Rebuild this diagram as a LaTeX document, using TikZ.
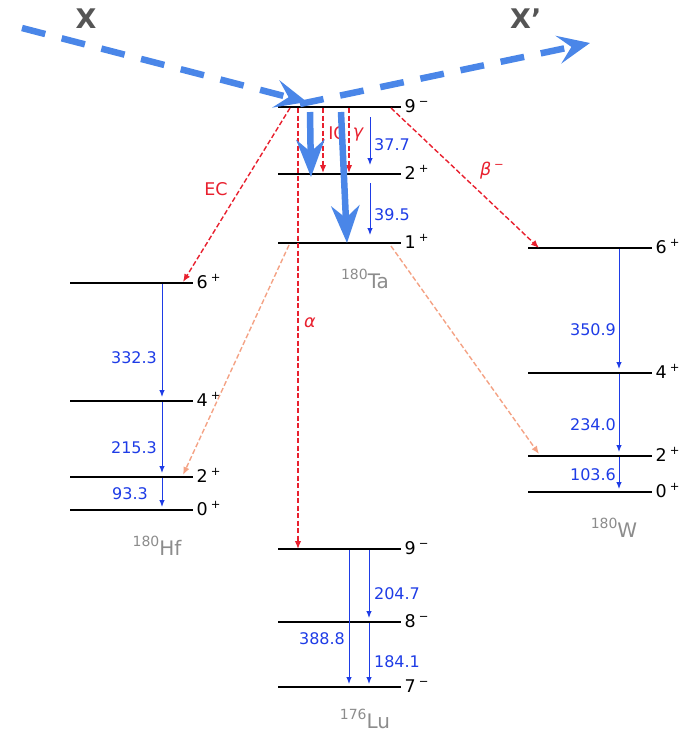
\documentclass[tikz,border=0pt]{standalone}
\usepackage{fontspec}
\setmainfont{DejaVu Sans}
\usetikzlibrary{arrows.meta}
\definecolor{tblue}{HTML}{1E3CE6}
\definecolor{dred}{HTML}{E8202E}
\definecolor{salmon}{HTML}{F4A284}
\definecolor{beamblue}{HTML}{4A86E8}
\definecolor{isogray}{HTML}{8C8C8C}
\definecolor{xgray}{HTML}{555555}
\newcommand\mylevel[5]{%
  \coordinate (#1L) at (#2,#4);
  \coordinate (#1R) at (#3,#4);
  \draw[levelline] (#1L) -- (#1R) node[levlab] {#5};
}
\newcommand\jp[2]{#1\,\raisebox{0.42em}{\fontsize{11.5}{11.5}\selectfont #2}}
\newcommand\iso[2]{{\fontsize{20}{20}\selectfont\raisebox{0.42em}{\fontsize{14}{14}\selectfont #1}#2}}
\begin{document}
\begin{tikzpicture}[x=1pt,y=-1pt,
  levelline/.style={line width=2.4pt,black},
  levlab/.style={anchor=base west,inner sep=0pt,xshift=2.5pt,yshift=-5.5pt,font=\fontsize{17.5}{17.5}\selectfont},
  trans/.style={draw=tblue,line width=1pt,-{Latex[length=7pt,width=5.5pt]}},
  tlab/.style={text=tblue,font=\fontsize{16}{16}\selectfont,inner sep=0pt,text depth=0pt},
  decay/.style={draw=dred,line width=1.4pt,dash pattern=on 5pt off 2.5pt,-{Latex[length=8pt,width=6.5pt]}},
  salm/.style={draw=salmon,line width=1.4pt,dash pattern=on 5pt off 2.5pt,-{Latex[length=8pt,width=6.5pt]}},
  dlab/.style={text=dred,font=\fontsize{17.5}{17.5}\selectfont,inner sep=0pt},
  beam/.style={draw=beamblue,line width=6.5pt,dash pattern=on 24pt off 17pt,-{Stealth[length=32pt,width=28pt,inset=13pt]}},
  fat/.style={draw=beamblue,line width=6.5pt,-{Stealth[length=37pt,width=28pt,inset=12pt]}},
  isolab/.style={text=isogray,inner sep=0pt,anchor=base},
  xlab/.style={text=xgray,font=\fontsize{27}{27}\selectfont\bfseries,inner sep=0pt,anchor=base}
]
\useasboundingbox (0,0) rectangle (685,732);

% levels
\mylevel{taA}{278}{401}{107}{\jp{9}{−}}
\mylevel{taB}{278}{401}{174}{\jp{2}{+}}
\mylevel{taC}{278}{401}{243}{\jp{1}{+}}
\mylevel{hfA}{70}{193}{283}{\jp{6}{+}}
\mylevel{hfB}{70}{193}{401}{\jp{4}{+}}
\mylevel{hfC}{70}{193}{477}{\jp{2}{+}}
\mylevel{hfD}{70}{193}{510}{\jp{0}{+}}
\mylevel{wA}{528}{652}{248}{\jp{6}{+}}
\mylevel{wB}{528}{652}{373}{\jp{4}{+}}
\mylevel{wC}{528}{652}{456}{\jp{2}{+}}
\mylevel{wD}{528}{652}{492}{\jp{0}{+}}
\mylevel{luA}{278}{401}{549}{\jp{9}{−}}
\mylevel{luB}{278}{401}{622}{\jp{8}{−}}
\mylevel{luC}{278}{401}{687}{\jp{7}{−}}

% isotope names
\node[isolab] (ta) at (365,288) {\iso{180}{Ta}};
\node[isolab] (hf) at (157,555) {\iso{180}{Hf}};
\node[isolab] (w)  at (614,537) {\iso{180}{W}};
\node[isolab] (lu) at (365,728) {\iso{176}{Lu}};

% gamma transitions
\coordinate (t1a) at (370,117); \coordinate (t1b) at (370,165);
\coordinate (t2a) at (370,183); \coordinate (t2b) at (370,235);
\draw[trans] (t1a) -- (t1b);
\draw[trans] (t2a) -- (t2b);
\node[tlab] (l377) at (392,145) {37.7};
\node[tlab] (l395) at (392,215) {39.5};

\coordinate (h1a) at (162,284); \coordinate (h1b) at (162,397);
\coordinate (h2a) at (162,402); \coordinate (h2b) at (162,473);
\coordinate (h3a) at (162,478); \coordinate (h3b) at (162,507);
\draw[trans] (h1a) -- (h1b);
\draw[trans] (h2a) -- (h2b);
\draw[trans] (h3a) -- (h3b);
\node[tlab] (l332) at (134,358) {332.3};
\node[tlab] (l215) at (134,448) {215.3};
\node[tlab] (l933) at (130,494) {93.3};

\coordinate (w1a) at (619,249); \coordinate (w1b) at (619,369);
\coordinate (w2a) at (619,374); \coordinate (w2b) at (619,452);
\coordinate (w3a) at (619,457); \coordinate (w3b) at (619,489);
\draw[trans] (w1a) -- (w1b);
\draw[trans] (w2a) -- (w2b);
\draw[trans] (w3a) -- (w3b);
\node[tlab] (l350) at (593,330) {350.9};
\node[tlab] (l234) at (593,425) {234.0};
\node[tlab] (l103) at (593,475) {103.6};

\coordinate (u1a) at (349,550); \coordinate (u1b) at (349,684);
\coordinate (u2a) at (369,550); \coordinate (u2b) at (369,618);
\coordinate (u3a) at (369,623); \coordinate (u3b) at (369,684);
\draw[trans] (u1a) -- (u1b);
\draw[trans] (u2a) -- (u2b);
\draw[trans] (u3a) -- (u3b);
\node[tlab] (l388) at (322,639) {388.8};
\node[tlab] (l204) at (397,594) {204.7};
\node[tlab] (l184) at (397,662) {184.1};

% decays
\coordinate (ecA) at (290,108); \coordinate (ecB) at (183,282);
\coordinate (bmA) at (391,108); \coordinate (bmB) at (539,248);
\coordinate (alA) at (298,108); \coordinate (alB) at (298,549);
\coordinate (icA) at (323,108); \coordinate (icB) at (323,173);
\coordinate (gmA) at (349,108); \coordinate (gmB) at (349,173);
\draw[decay] (ecA) -- (ecB);
\draw[decay] (bmA) -- (bmB);
\draw[decay] (alA) -- (alB);
\draw[decay] (icA) -- (icB);
\draw[decay] (gmA) -- (gmB);
\node[dlab] (ec) at (216,189) {EC};
\node[dlab] (bm) at (492,171) {\itshape β\,\raisebox{0.42em}{\fontsize{11.5}{11.5}\selectfont\upshape −}};
\node[dlab] (al) at (310,323) {\itshape α};
\node[dlab] (ic) at (337,133) {IC};
\node[dlab] (gm) at (358,135) {\itshape γ};

\coordinate (s1A) at (289,245); \coordinate (s1B) at (183,475);
\coordinate (s2A) at (391,246); \coordinate (s2B) at (539,454);
\draw[salm] (s1A) -- (s1B);
\draw[salm] (s2A) -- (s2B);

% thick blue arrows
\coordinate (f1A) at (310,112); \coordinate (f1B) at (311,177);
\coordinate (f2A) at (341,112); \coordinate (f2B) at (347,243);
\draw[fat] (f1A) -- (f1B);
\draw[fat] (f2A) -- (f2B);

% beam
\coordinate (xin) at (22,28);
\coordinate (hit) at (307,102);
\coordinate (hit2) at (300,104);
\coordinate (xout) at (590,43);
\draw[beam] (xin) -- (hit);
\draw[beam] (hit2) -- (xout);
\node[xlab] (xa) at (86,28) {X};
\node[xlab,anchor=base west] (xb) at (510,28) {X’};
\end{tikzpicture}
\end{document}
